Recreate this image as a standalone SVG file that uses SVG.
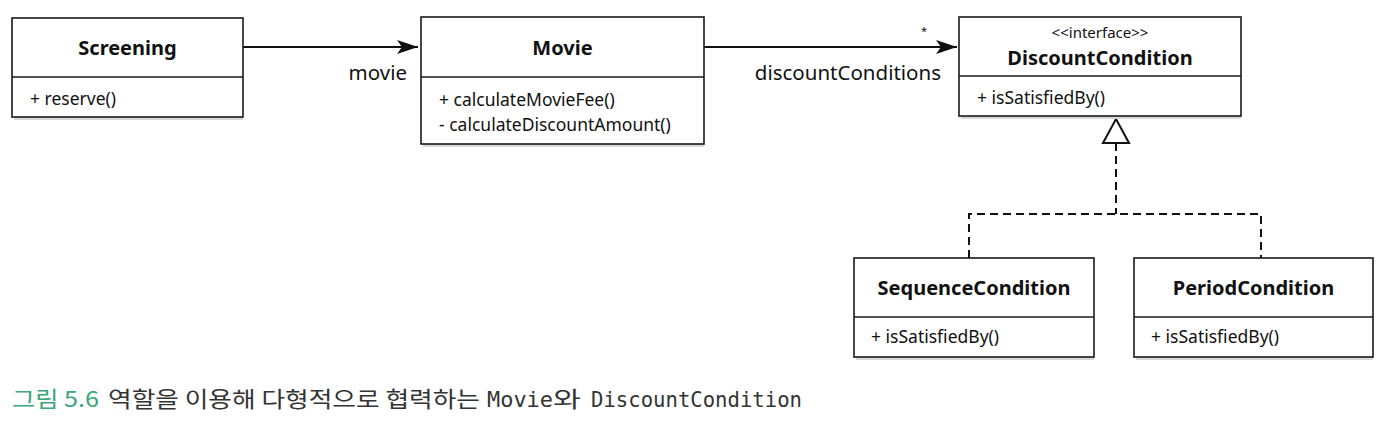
<svg xmlns="http://www.w3.org/2000/svg" width="1386" height="422" viewBox="0 0 1386 422">
<style>
.box{fill:#fff;stroke:#1a1a1a;stroke-width:1.6}
.shadow{fill:#d8d8d8}
.div{stroke:#1a1a1a;stroke-width:1.4}
.title{font-family:"Noto Sans","Liberation Sans",sans-serif;font-weight:bold;font-size:20px;fill:#111;text-anchor:middle}
.stereo{font-family:"Noto Sans","Liberation Sans",sans-serif;font-size:15px;fill:#111;text-anchor:middle}
.meth{font-family:"Noto Sans","Liberation Sans",sans-serif;font-size:17.5px;fill:#111}
.lbl{font-family:"Noto Sans","Liberation Sans",sans-serif;font-size:20.5px;fill:#111}
.mult{font-family:"Noto Sans","Liberation Sans",sans-serif;font-size:11px;fill:#111;text-anchor:middle}
.line{stroke:#111;stroke-width:2.2;fill:none}
.dash{stroke:#111;stroke-width:2;fill:none;stroke-dasharray:8 5}
.cap{font-family:"Noto Sans CJK KR",sans-serif;font-size:22px;fill:#333}
.mono{font-family:"DejaVu Sans Mono","Liberation Mono",monospace;font-size:21px;fill:#333}
</style>
<defs>
<marker id="filled" markerWidth="22" markerHeight="14" refX="21" refY="7" orient="auto" markerUnits="userSpaceOnUse">
<path d="M0,0 L21,7 L0,14 L5,7 Z" fill="#111"/>
</marker>
</defs>
<g id="connectors">
<line class="line" x1="243" y1="47" x2="418" y2="47" marker-end="url(#filled)"/>
<line class="line" x1="704" y1="47" x2="957" y2="47" marker-end="url(#filled)"/>
<text class="lbl" x="407" y="80" text-anchor="end">movie</text>
<text class="lbl" x="941" y="80" text-anchor="end">discountConditions</text>
<text class="mult" x="924" y="35">*</text>
<polygon points="1116,119 1129,143 1103,143" fill="#fff" stroke="#111" stroke-width="2"/>
<line class="dash" x1="1116" y1="143" x2="1116" y2="214"/>
<polyline class="dash" points="969,258 969,214 1261,214 1261,258"/>
</g>
<g id="Screening">
<rect class="shadow" x="14" y="117" width="229" height="3"/>
<rect class="box" x="12" y="18" width="231" height="99"/>
<line class="div" x1="12" y1="77" x2="243" y2="77"/>
<text class="title" x="127.500" y="55">Screening</text>
<text class="meth" x="30" y="105">+ reserve()</text>
</g>
<g id="Movie">
<rect class="shadow" x="423" y="144" width="281" height="3"/>
<rect class="box" x="421" y="17" width="283" height="127"/>
<line class="div" x1="421" y1="77" x2="704" y2="77"/>
<text class="title" x="562.500" y="55">Movie</text>
<text class="meth" x="439" y="106">+ calculateMovieFee()</text>
<text class="meth" x="439" y="131">- calculateDiscountAmount()</text>
</g>
<g id="DiscountCondition">
<rect class="shadow" x="961" y="116" width="280" height="3"/>
<rect class="box" x="959" y="17" width="282" height="99"/>
<line class="div" x1="959" y1="76" x2="1241" y2="76"/>
<text class="stereo" x="1100" y="38">&lt;&lt;interface&gt;&gt;</text>
<text class="title" x="1100" y="65">DiscountCondition</text>
<text class="meth" x="977" y="104">+ isSatisfiedBy()</text>
</g>
<g id="SequenceCondition">
<rect class="shadow" x="856" y="357" width="238" height="3"/>
<rect class="box" x="854" y="258" width="240" height="99"/>
<line class="div" x1="854" y1="317" x2="1094" y2="317"/>
<text class="title" x="974" y="295">SequenceCondition</text>
<text class="meth" x="871" y="343">+ isSatisfiedBy()</text>
</g>
<g id="PeriodCondition">
<rect class="shadow" x="1136" y="357" width="237" height="3"/>
<rect class="box" x="1134" y="258" width="239" height="99"/>
<line class="div" x1="1134" y1="317" x2="1373" y2="317"/>
<text class="title" x="1253.500" y="295">PeriodCondition</text>
<text class="meth" x="1151" y="343">+ isSatisfiedBy()</text>
</g>
<g id="caption">
<text class="cap" x="12" y="407" style="fill:#3aa67a" textLength="87" lengthAdjust="spacingAndGlyphs">그림 5.6</text>
<text class="cap" x="108" y="407" textLength="372" lengthAdjust="spacingAndGlyphs">역할을 이용해 다형적으로 협력하는</text>
<text class="mono" x="487" y="407" textLength="66" lengthAdjust="spacingAndGlyphs">Movie</text>
<text class="cap" x="553" y="407" textLength="28" lengthAdjust="spacingAndGlyphs">와</text>
<text class="mono" x="591" y="407" textLength="211" lengthAdjust="spacingAndGlyphs">DiscountCondition</text>
</g>
</svg>
